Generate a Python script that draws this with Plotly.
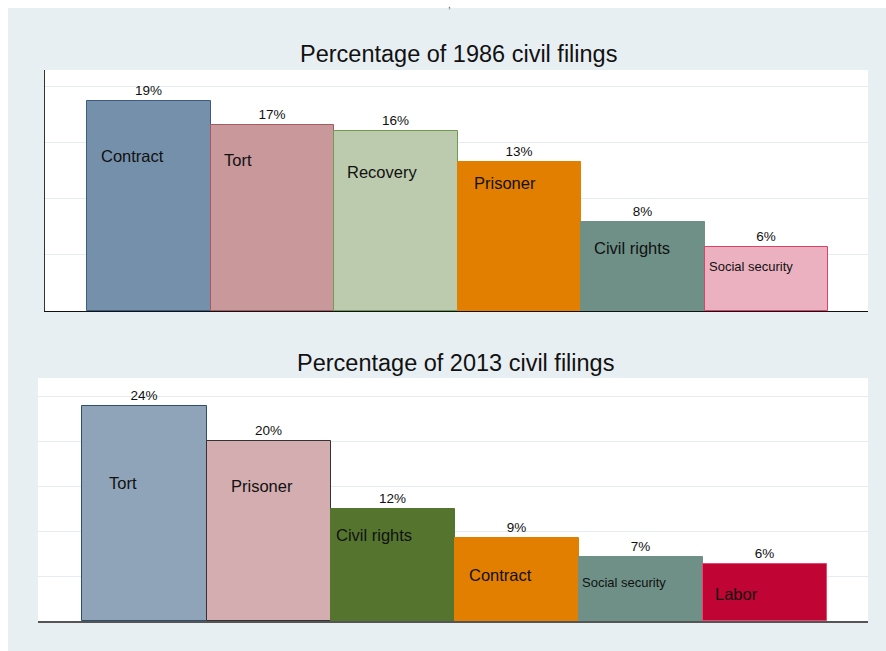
import plotly.graph_objects as go

W, H = 886, 651

# ---- data ----
cats_1986 = ["Contract", "Tort", "Recovery", "Prisoner", "Civil rights", "Social security"]
vals_1986 = [18.7, 16.6, 16.1, 13.3, 7.9, 5.7]
text_1986 = ["19%", "17%", "16%", "13%", "8%", "6%"]

cats_2013 = ["Tort", "Prisoner", "Civil rights", "Contract", "Social security", "Labor"]
vals_2013 = [23.9, 20.0, 12.4, 9.2, 7.1, 6.3]
text_2013 = ["24%", "20%", "12%", "9%", "7%", "6%"]

# ---- styles ----
fill_1986 = ["#7590ab", "#c8989b", "#bccaad", "#e37f00", "#6e9087", "#ebb1c0"]
line_1986 = ["#3b5d80", "#a55a64", "#6e9a52", "#e37f00", "#6e9087", "#d8436b"]
fill_2013 = ["#8fa4b9", "#d3adb0", "#55752f", "#e37f00", "#6e9087", "#c00433"]
line_2013 = ["#2e4e70", "#333333", "#55752f", "#e37f00", "#6e9087", "#e54870"]

# label placement inside bars: (offset from bar left edge as fraction of bar, y in data units, font size)
lab_1986 = [(0.095, 13.84, 16.5), (0.09, 13.48, 16.5), (0.085, 12.41, 16.5),
            (0.115, 11.43, 16.5), (0.09, 5.63, 16.5), (0.02, 3.93, 13)]
lab_2013 = [(0.2, 15.33, 16.5), (0.18, 15.0, 16.5), (0.03, 9.56, 16.5),
            (0.095, 5.11, 16.5), (0.01, 4.33, 13), (0.085, 3.0, 16.5)]

FONT = "Liberation Sans, Arial, sans-serif"
BG = "#e8eff2"
GRID = "#e4ecef"

fig = go.Figure()

def px_x(p):
    return p / W

def px_y(p):
    return 1 - p / H

fig.add_trace(go.Bar(
    x=list(range(len(cats_1986))), y=vals_1986, width=1,
    marker=dict(color=fill_1986, line=dict(color=line_1986, width=1)),
    text=text_1986, textposition="outside",
    textfont=dict(size=13.5, color="#111111", family=FONT),
    cliponaxis=False, xaxis="x", yaxis="y", hoverinfo="skip"))

fig.add_trace(go.Bar(
    x=list(range(len(cats_2013))), y=vals_2013, width=1,
    marker=dict(color=fill_2013, line=dict(color=line_2013, width=1)),
    text=text_2013, textposition="outside",
    textfont=dict(size=13.5, color="#111111", family=FONT),
    cliponaxis=False, xaxis="x2", yaxis="y2", hoverinfo="skip"))

annotations = []
for i, (c, (dx, yy, fs)) in enumerate(zip(cats_1986, lab_1986)):
    annotations.append(dict(x=i - 0.5 + dx, y=yy, xref="x", yref="y", text=c,
                            showarrow=False, xanchor="left", yanchor="middle",
                            font=dict(size=fs, color="#111111", family=FONT)))
for i, (c, (dx, yy, fs)) in enumerate(zip(cats_2013, lab_2013)):
    annotations.append(dict(x=i - 0.5 + dx, y=yy, xref="x2", yref="y2", text=c,
                            showarrow=False, xanchor="left", yanchor="middle",
                            font=dict(size=fs, color="#111111", family=FONT)))

annotations.append(dict(x=px_x(458), y=px_y(54), xref="paper", yref="paper",
                        text="Percentage of 1986 civil filings", showarrow=False,
                        xanchor="center", yanchor="middle",
                        font=dict(size=23.5, color="#111111", family=FONT)))
annotations.append(dict(x=px_x(455), y=px_y(363), xref="paper", yref="paper",
                        text="Percentage of 2013 civil filings", showarrow=False,
                        xanchor="center", yanchor="middle",
                        font=dict(size=23.5, color="#111111", family=FONT)))
annotations.append(dict(x=px_x(449), y=px_y(-3), xref="paper", yref="paper",
                        text=",", showarrow=False, xanchor="center", yanchor="top",
                        font=dict(size=10, color="#555555", family=FONT)))

shapes = [
    dict(type="rect", xref="paper", yref="paper", x0=px_x(8), x1=1, y0=0, y1=px_y(8),
         fillcolor=BG, line=dict(width=0), layer="below"),
    dict(type="rect", xref="paper", yref="paper", x0=px_x(45), x1=px_x(868),
         y0=px_y(311), y1=px_y(70), fillcolor="white", line=dict(width=0), layer="below"),
    dict(type="rect", xref="paper", yref="paper", x0=px_x(38), x1=px_x(868),
         y0=px_y(621), y1=px_y(378), fillcolor="white", line=dict(width=0), layer="below"),
]

fig.update_layout(
    width=W, height=H,
    margin=dict(l=0, r=0, t=0, b=0),
    paper_bgcolor="white", plot_bgcolor="rgba(0,0,0,0)",
    showlegend=False, bargap=0,
    annotations=annotations, shapes=shapes,
    xaxis=dict(domain=[px_x(45), px_x(868)], range=[-0.842, 5.822],
               showticklabels=False, showgrid=False, zeroline=False,
               showline=True, linecolor="#111111", linewidth=1, ticks=""),
    yaxis=dict(domain=[px_y(311), px_y(70)], range=[0, 21.5],
               tickvals=[5, 10, 15, 20], showticklabels=False,
               showgrid=True, gridcolor=GRID, gridwidth=1, zeroline=False,
               showline=True, linecolor="#333333", linewidth=1, ticks=""),
    xaxis2=dict(domain=[px_x(38), px_x(868)], range=[-0.858, 5.83],
                showticklabels=False, showgrid=False, zeroline=False,
                showline=True, linecolor="#555555", linewidth=2, ticks="",
                anchor="y2"),
    yaxis2=dict(domain=[px_y(621), px_y(378)], range=[0, 27],
                tickvals=[5, 10, 15, 20, 25], showticklabels=False,
                showgrid=True, gridcolor=GRID, gridwidth=1, zeroline=False,
                showline=False, ticks="", anchor="x2"),
)

fig.write_html("out.html",
               config={"displayModeBar": False},
               post_script="document.body.style.margin='0';document.body.style.overflow='hidden';")
